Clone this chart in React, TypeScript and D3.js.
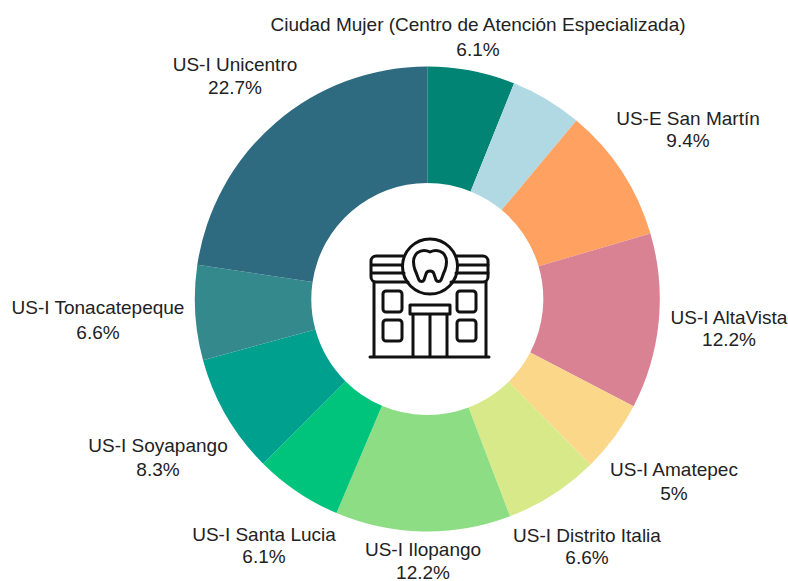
import React from "react";
import * as d3 from "d3";

const categories = ["Ciudad Mujer (Centro de Atención Especializada)", "", "US-E San Martín", "US-I AltaVista", "US-I Amatepec", "US-I Distrito Italia", "US-I Ilopango", "US-I Santa Lucia", "US-I Soyapango", "US-I Tonacatepeque", "US-I Unicentro"];
const values = [6.1, 5, 9.4, 12.2, 5, 6.6, 12.2, 6.1, 8.3, 6.6, 22.7];
const valueLabels = ["6.1%", "", "9.4%", "12.2%", "5%", "6.6%", "12.2%", "6.1%", "8.3%", "6.6%", "22.7%"];
const colors = ["#028474", "#B0D9E3", "#FFA261", "#D98294", "#FAD789", "#D8E98A", "#8DDD85", "#00C47C", "#00A08F", "#33898C", "#2E6B80"];
const labelCx = [478, 0, 688, 729, 674, 587, 423, 264, 158, 98, 235];
const labelBase = [31, 0, 125, 324, 476, 542, 556, 540.5, 451.5, 314, 71];
const labelGap = [25, 0, 22, 22, 24, 22, 23, 22, 24.5, 25, 23];

const CX = 427.3, CY = 299, R = 232.5, r = 116;

function Icon() {
  const s = { fill: "none", stroke: "#111", strokeWidth: 3, strokeLinecap: "round" as const, strokeLinejoin: "round" as const };
  return (
    <g transform="translate(340,210)" {...s}>
      <path d="M63 46H36a5 5 0 0 0-5 5v16a5 5 0 0 0 5 5h32M116 46h27a5 5 0 0 1 5 5v16a5 5 0 0 1-5 5h-32" />
      <path d="M32 55H62M32 63H64M118 55H148M116 63H148" />
      <circle cx="90" cy="56.5" r="27.5" />
      <path d="M77 43c4-3 9-3 13-1 4-2 9-2 13 1 4 4 4 11 2 17-2 4-3 8-4 10-1 2-4 2-5 0l-2-6c-1-4-7-4-8 0l-2 6c-1 2-4 2-5 0-1-2-2-6-4-10-2-6-2-13 2-17Z" />
      <path d="M34 72V146M146 72V146M30 147H149" />
      <rect x="43" y="81" width="19" height="21" rx="3" />
      <rect x="43" y="110" width="19" height="21" rx="3" />
      <rect x="117" y="81" width="19" height="21" rx="3" />
      <rect x="117" y="110" width="19" height="21" rx="3" />
      <path d="M70 95H110V104H70ZM73 104V146M90 104V146M107 104V146" />
    </g>
  );
}

export default function App() {
  const pie = d3.pie<number>().sort(null)(values);
  const arc = d3.arc<d3.PieArcDatum<number>>().innerRadius(r).outerRadius(R);
  return (
    <svg width={788} height={581} style={{ position: "absolute", left: 0, top: 0, background: "#fff" }}>
      <g transform={`translate(${CX},${CY})`}>
        {pie.map((d, i) => <path key={i} d={arc(d) as string} fill={colors[i]} />)}
      </g>
      <Icon />
      <g fontFamily="'Liberation Sans', Arial, sans-serif" fontSize={19} fill="#222" textAnchor="middle">
        {categories.map((c, i) => c ? (
          <text key={i} x={labelCx[i]} y={labelBase[i]}>
            <tspan x={labelCx[i]}>{c}</tspan>
            <tspan x={labelCx[i]} dy={labelGap[i]}>{valueLabels[i]}</tspan>
          </text>
        ) : null)}
      </g>
    </svg>
  );
}
